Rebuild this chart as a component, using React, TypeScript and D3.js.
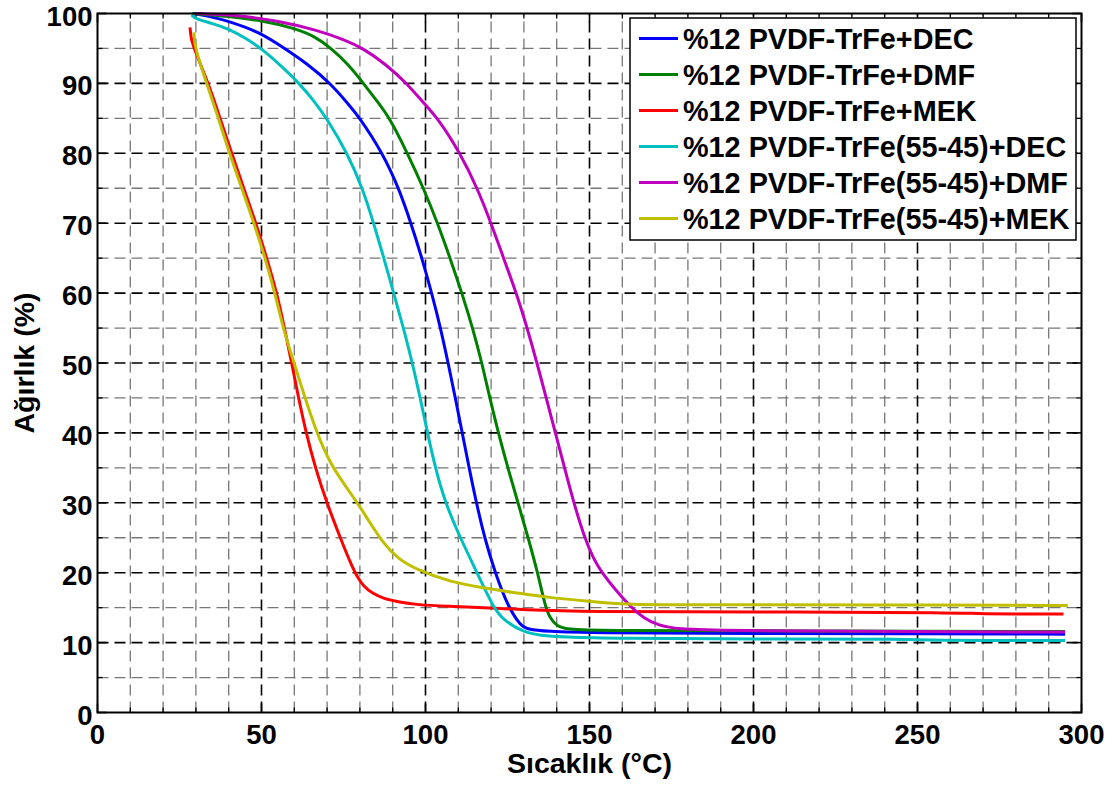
import React from "react";
import * as d3 from "d3";

const seriesNames = [
  "%12 PVDF-TrFe+DEC",
  "%12 PVDF-TrFe+DMF",
  "%12 PVDF-TrFe+MEK",
  "%12 PVDF-TrFe(55-45)+DEC",
  "%12 PVDF-TrFe(55-45)+DMF",
  "%12 PVDF-TrFe(55-45)+MEK",
];
const seriesColors = ["#0000FF", "#008000", "#FF0000", "#00BFBF", "#BF00BF", "#BFBF00"];

const decX = [29, 35, 40, 49.6, 57, 64, 71, 76, 80, 83.5, 86.7, 89.4, 91.8, 95.6, 98.9, 101.9, 104.6, 106.9, 109.1, 111.2, 113.3, 115.5, 118, 121.2, 125.3, 128.9, 131, 137, 150, 200, 250, 295];
const decY = [100, 99.5, 98.9, 97.3, 95, 92.8, 90, 87.3, 85, 82.5, 80, 77.5, 75, 70, 65, 60, 55, 50, 45, 40, 35, 30, 25, 20, 15, 12.5, 11.9, 11.6, 11.4, 11.3, 11.3, 11.2];

const dmfX = [29, 40, 50, 60, 66, 71.4, 76.5, 81.1, 85, 89.2, 94.5, 99.4, 103.7, 107.5, 111.1, 114.4, 117.2, 119.6, 122.2, 125.1, 128.2, 131.3, 134.2, 136.6, 138, 140.1, 143.1, 152.3, 200, 250, 295];
const dmfY = [100, 99.6, 99, 97.9, 96.8, 95, 92.7, 90, 87.6, 85, 80, 75, 70, 65, 60, 55, 50, 45, 40, 35, 30, 25, 20, 15, 13.5, 12.3, 11.9, 11.7, 11.7, 11.6, 11.6];

const mekX = [28.2, 28.5, 29.4, 33.8, 37.4, 40.9, 44.6, 48.3, 51.6, 54.7, 57, 59.2, 61.3, 63.6, 66.4, 69.9, 74, 78.3, 81.1, 84, 87.2, 92, 97.5, 107, 117.6, 130, 148, 200, 265, 266, 294.5];
const mekY = [98, 96.5, 95, 90, 85, 80, 75, 70, 65, 60, 55, 50, 45, 40, 35, 30, 25, 20, 18, 17, 16.3, 15.8, 15.4, 15.2, 15, 14.7, 14.4, 14.4, 14.3, 14.1, 14.1];

const dec2X = [28.7, 30, 35, 40.4, 45, 50, 56, 61.5, 66, 69.9, 76.2, 80.8, 84.2, 87.3, 90.3, 93.3, 96, 98.4, 100.6, 103, 106, 110.6, 115.7, 120.7, 123.8, 129.8, 135, 142, 157.3, 200, 250, 251, 295];
const dec2Y = [99.8, 99.2, 98.6, 97.7, 96.5, 95, 92.5, 90, 87.5, 85, 80, 75, 70, 65, 60, 55, 50, 45, 40, 35, 30, 25, 20, 15, 13.2, 11.5, 11, 10.8, 10.6, 10.5, 10.5, 10.3, 10.3];

const dmf2X = [30, 41.4, 55, 67, 75, 81.1, 88, 94.3, 99.4, 103.8, 110.6, 115.8, 120, 123.8, 127.7, 131, 134, 136.8, 139.6, 142.4, 145.2, 148.5, 151.2, 153.8, 158, 162.8, 166.5, 170.7, 177, 190, 250, 295];
const dmf2Y = [100, 99.8, 99, 97.6, 96.3, 95, 92.7, 90, 87.2, 85, 80, 75, 70, 65, 60, 55, 50, 45, 40, 35, 30, 25, 22, 20, 17.5, 15, 13.5, 12.5, 11.9, 11.7, 11.6, 11.5];

const mek2X = [29.4, 29.7, 33.3, 36.9, 40.2, 44, 47.7, 51.1, 54.1, 56.6, 58.7, 62.8, 66.9, 70.9, 75, 80.1, 83.1, 87.2, 91.3, 97.4, 107.5, 117.6, 128, 138, 150.2, 160, 168.5, 200, 250, 295.8];
const mek2Y = [97.3, 95, 90, 85, 80, 75, 70, 65, 60, 55, 51.8, 45.7, 39.9, 35.7, 32.8, 29.4, 27.1, 24.2, 22.1, 20.4, 18.7, 17.8, 17.1, 16.4, 15.9, 15.5, 15.4, 15.4, 15.4, 15.3];

const seriesX = [decX, dmfX, mekX, dec2X, dmf2X, mek2X];
const seriesY = [decY, dmfY, mekY, dec2Y, dmf2Y, mek2Y];

const xTicks = [0, 50, 100, 150, 200, 250, 300];
const yTicks = [0, 10, 20, 30, 40, 50, 60, 70, 80, 90, 100];
const xMinor = d3.range(10, 300, 10).filter((v) => v % 50 !== 0);
const yMinor = d3.range(5, 100, 10);

const FONT = "'Liberation Sans', Arial, Helvetica, sans-serif";

export default function App() {
  const L = 97.5, R = 1081.5, T = 13.5, B = 712.5;
  const x = d3.scaleLinear().domain([0, 300]).range([L, R]);
  const y = d3.scaleLinear().domain([0, 100]).range([B, T]);
  const line = d3
    .line<[number, number]>()
    .x((d) => x(d[0]))
    .y((d) => y(d[1]))
    .curve(d3.curveBasis);

  const dash = "11,6";
  const legRowY = (i: number) => 38.5 + i * 36;

  return (
    <svg
      width={1116}
      height={785}
      style={{ position: "absolute", left: 0, top: 0, background: "#fff" }}
      fontFamily={FONT}
    >
      <rect x={0} y={0} width={1116} height={785} fill="#fff" />
      {xMinor.map((v) => (
        <line key={"gx" + v} x1={x(v)} x2={x(v)} y1={B} y2={T} stroke="#777" strokeWidth={1.3} strokeDasharray={dash} />
      ))}
      {yMinor.map((v) => (
        <line key={"gy" + v} x1={L} x2={R} y1={y(v)} y2={y(v)} stroke="#777" strokeWidth={1.3} strokeDasharray={dash} />
      ))}
      {xTicks.slice(1, -1).map((v) => (
        <line key={"Gx" + v} x1={x(v)} x2={x(v)} y1={B} y2={T} stroke="#000" strokeWidth={1.6} strokeDasharray={dash} />
      ))}
      {yTicks.slice(1, -1).map((v) => (
        <line key={"Gy" + v} x1={L} x2={R} y1={y(v)} y2={y(v)} stroke="#000" strokeWidth={1.6} strokeDasharray={dash} />
      ))}
      {xTicks.map((v) => (
        <g key={"tx" + v}>
          <line x1={x(v)} x2={x(v)} y1={B} y2={B - 9} stroke="#000" strokeWidth={1.6} />
          <line x1={x(v)} x2={x(v)} y1={T} y2={T + 9} stroke="#000" strokeWidth={1.6} />
        </g>
      ))}
      {xMinor.map((v) => (
        <g key={"mx" + v}>
          <line x1={x(v)} x2={x(v)} y1={B} y2={B - 5} stroke="#000" strokeWidth={1.3} />
          <line x1={x(v)} x2={x(v)} y1={T} y2={T + 5} stroke="#000" strokeWidth={1.3} />
        </g>
      ))}
      {yTicks.map((v) => (
        <g key={"ty" + v}>
          <line x1={L} x2={L + 9} y1={y(v)} y2={y(v)} stroke="#000" strokeWidth={1.6} />
          <line x1={R} x2={R - 9} y1={y(v)} y2={y(v)} stroke="#000" strokeWidth={1.6} />
        </g>
      ))}
      {yMinor.map((v) => (
        <g key={"my" + v}>
          <line x1={L} x2={L + 5} y1={y(v)} y2={y(v)} stroke="#000" strokeWidth={1.3} />
          <line x1={R} x2={R - 5} y1={y(v)} y2={y(v)} stroke="#000" strokeWidth={1.3} />
        </g>
      ))}
      <defs>
        <clipPath id="clip">
          <rect x={L} y={T - 2} width={R - L} height={B - T + 2} />
        </clipPath>
      </defs>
      <g clipPath="url(#clip)">
        {seriesX.map((xs, i) => (
          <path
            key={"s" + i}
            d={line(xs.map((xv, j) => [xv, seriesY[i][j]] as [number, number])) || ""}
            fill="none"
            stroke={seriesColors[i]}
            strokeWidth={3}
            strokeLinejoin="round"
          />
        ))}
      </g>
      <rect x={L} y={T} width={R - L} height={B - T} fill="none" stroke="#000" strokeWidth={2} />
      {xTicks.map((v) => (
        <text key={"lx" + v} x={x(v)} y={B + 31} textAnchor="middle" fontSize={27.5} fontWeight="bold">
          {v}
        </text>
      ))}
      {yTicks.map((v) => (
        <text key={"ly" + v} x={L - 5} y={y(v) + 12} textAnchor="end" fontSize={27.5} fontWeight="bold">
          {v}
        </text>
      ))}
      <text x={(L + R) / 2} y={773} textAnchor="middle" fontSize={28.5} fontWeight="bold">
        Sıcaklık (°C)
      </text>
      <text
        transform={`translate(34, ${(T + B) / 2}) rotate(-90)`}
        textAnchor="middle"
        fontSize={28.5}
        fontWeight="bold"
      >
        Ağırlık (%)
      </text>
      <rect x={630} y={18} width={446} height={222} fill="#fff" stroke="#000" strokeWidth={1.5} />
      {seriesNames.map((n, i) => (
        <g key={"lg" + i}>
          <line x1={639} x2={678} y1={legRowY(i)} y2={legRowY(i)} stroke={seriesColors[i]} strokeWidth={3} />
          <text x={683} y={legRowY(i) + 10} fontSize={28.8} fontWeight="bold">
            {n}
          </text>
        </g>
      ))}
    </svg>
  );
}
